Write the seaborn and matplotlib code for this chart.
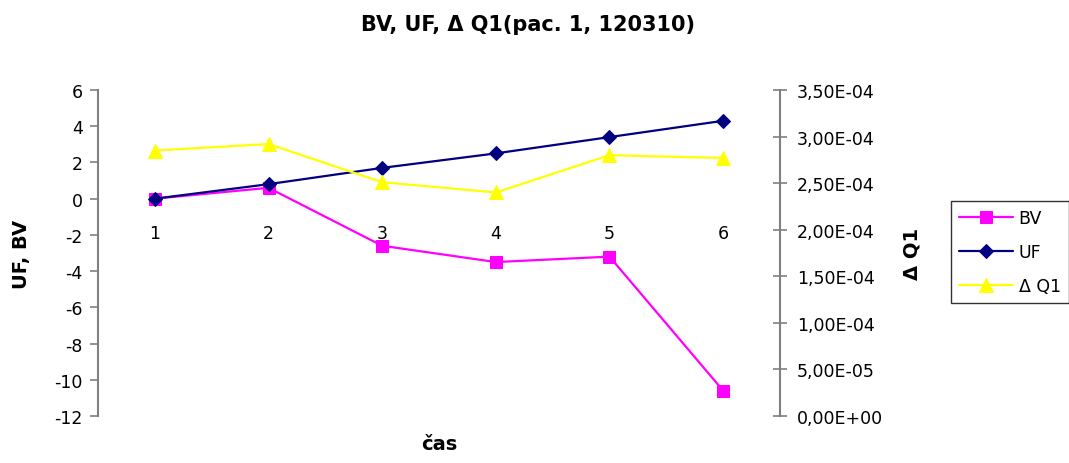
import matplotlib
matplotlib.use("Agg")
import matplotlib.pyplot as plt
import seaborn as sns
import pandas as pd
from matplotlib.ticker import FuncFormatter, MultipleLocator

# measurement times and series
cas = [1, 2, 3, 4, 5, 6]
bv = [0.0, 0.6, -2.6, -3.5, -3.2, -10.6]
uf = [0.0, 0.8, 1.7, 2.5, 3.4, 4.3]
dq1 = [2.85e-4, 2.92e-4, 2.51e-4, 2.40e-4, 2.80e-4, 2.77e-4]

df = pd.DataFrame({"cas": cas, "BV": bv, "UF": uf, "dQ1": dq1})

sns.set_theme(style="white")
plt.rcParams["font.family"] = ["DejaVu Sans"]
plt.rcParams["axes.unicode_minus"] = False
plt.rcParams["text.color"] = "black"
plt.rcParams["axes.labelcolor"] = "black"

fig = plt.figure(figsize=(10.69, 4.64), dpi=100)
ax = fig.add_axes([98 / 1069, 1 - 417 / 464, 682 / 1069, 326 / 464])
ax2 = ax.twinx()

sns.lineplot(data=df, x="cas", y="BV", ax=ax, color="#FF00FF", marker="s",
             markersize=8.5, markeredgecolor="#FF00FF", linewidth=1.6, label="BV", legend=False)
sns.lineplot(data=df, x="cas", y="UF", ax=ax, color="#000080", marker="D",
             markersize=7.5, markeredgecolor="#000080", linewidth=1.6, label="UF", legend=False)
sns.lineplot(data=df, x="cas", y="dQ1", ax=ax2, color="#FFFF00", marker="^",
             markersize=10, markeredgecolor="#FFFF00", linewidth=1.6, label="Δ Q1", legend=False)

gray = "#808080"
tick_fs = 12.5

# left axis
ax.set_xlim(0.5, 6.5)
ax.set_ylim(-12, 6)
ax.yaxis.set_major_locator(MultipleLocator(2))
ax.set_xticks(cas)
ax.set_xticklabels([str(c) for c in cas])
for s in ["top", "right"]:
    ax.spines[s].set_visible(False)
ax.spines["bottom"].set_position(("data", 0))
ax.spines["bottom"].set_visible(False)
ax.spines["left"].set_color(gray)
ax.spines["left"].set_linewidth(1.5)
ax.tick_params(axis="y", direction="out", length=6, width=1.2, color=gray,
               labelcolor="black", labelsize=tick_fs, left=True, pad=5)
ax.tick_params(axis="x", length=0, labelsize=tick_fs, labelcolor="black", pad=18)

# right axis
ax2.set_ylim(0, 3.5e-4)
ax2.yaxis.set_major_locator(MultipleLocator(5e-5))
ax2.yaxis.set_major_formatter(FuncFormatter(lambda v, p: f"{v:.2E}".replace(".", ",")))
for s in ["top", "left", "bottom"]:
    ax2.spines[s].set_visible(False)
ax2.spines["right"].set_color(gray)
ax2.spines["right"].set_linewidth(1.5)
ax2.tick_params(axis="y", direction="inout", length=10, width=1.2, color=gray,
                labelcolor="black", labelsize=tick_fs, right=True, pad=7)
ax.grid(False)
ax2.grid(False)

lab_kw = dict(fontsize=14, fontweight="bold")
ax.set_xlabel("čas", **lab_kw)
ax.xaxis.set_label_coords(0.50, -0.055)
ax.set_ylabel("UF, BV", **lab_kw)
ax.yaxis.set_label_coords(-0.098, 0.5)
ax2.set_ylabel("Δ Q1", **lab_kw)
ax2.yaxis.set_label_coords(1.179, 0.5)

fig.text(528 / 1069, 1 - 25 / 464, "BV, UF, Δ Q1(pac. 1, 120310)", ha="center", va="center",
         fontsize=15, fontweight="bold")

handles = ax.get_lines() + ax2.get_lines()
labels = ["BV", "UF", "Δ Q1"]
leg = fig.legend(handles, labels, loc="upper left", bbox_to_anchor=(951 / 1069, 1 - 202 / 464),
                 frameon=True, fontsize=12.5, handlelength=3.1, borderpad=0.45,
                 labelspacing=0.92, handletextpad=0.35, fancybox=False, borderaxespad=0)
leg.get_frame().set_edgecolor("black")
leg.get_frame().set_linewidth(1.0)

fig.savefig("out.png", dpi=100)
